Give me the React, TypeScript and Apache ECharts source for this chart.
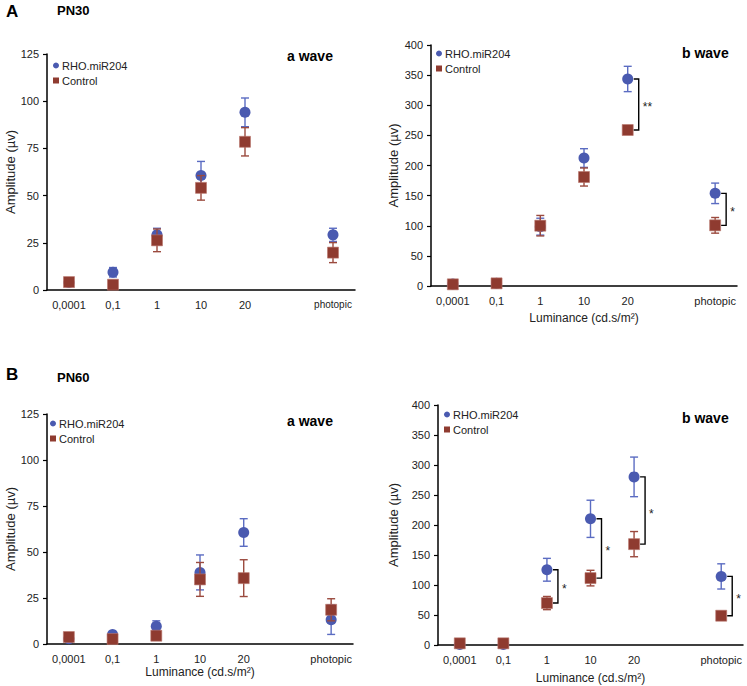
import React, { useEffect, useRef } from "react";
import * as echarts from "echarts";

const categories = ["0,0001", "0,1", "1", "10", "20", "", "photopic"];

// PN30 a wave
const a30Rho = [4.0, 9.4, 29.2, 60.6, 94.1, null, 29.2];
const a30RhoErr = [0, 2.5, 3.5, 7.5, 7.6, null, 3.5];
const a30Ctrl = [4.2, 2.8, 26.3, 54.1, 78.5, null, 19.8];
const a30CtrlErr = [0, 0, 6, 6.5, 7.5, null, 5.3];

// PN30 b wave
const b30Rho = [3.3, 4.4, 98.5, 212.4, 343.6, null, 153.8];
const b30RhoErr = [0, 0, 14, 15.5, 21, null, 17];
const b30Ctrl = [2.8, 4.4, 100.1, 180.9, 258.9, null, 100.7];
const b30CtrlErr = [0, 0, 17, 15, 3, null, 13];
const b30Sig = [
  { cat: 4, label: "**" },
  { cat: 6, label: "*" },
];

// PN60 a wave
const a60Rho = [2.9, 5.2, 9.6, 38.9, 60.6, null, 13.2];
const a60RhoErr = [0, 0, 3, 9.5, 7.5, null, 8];
const a60Ctrl = [3.8, 2.7, 4.5, 35.1, 35.8, null, 18.6];
const a60CtrlErr = [0, 0, 0, 9.2, 10, null, 6];

// PN60 b wave
const b60Rho = [1, 1, 125.4, 210.3, 280.2, null, 114.3];
const b60RhoErr = [0, 0, 19, 31, 33, null, 21];
const b60Ctrl = [2.8, 2.8, 69.9, 111.5, 168.1, null, 48.8];
const b60CtrlErr = [0, 0, 11, 13, 21, null, 2];
const b60Sig = [
  { cat: 2, label: "*" },
  { cat: 3, label: "*" },
  { cat: 4, label: "*" },
  { cat: 6, label: "*" },
];

const FONT = '"Liberation Sans", Arial, sans-serif';
const BLUE = "#4a5ab0";
const BLUE_ERR = "#5b6cc2";
const RED = "#8f3b30";
const RED_ERR = "#9b4a3e";

type Panel = {
  grid: { left: number; top: number; width: number; height: number };
  max: number;
  interval: number;
  nameGap: number;
  xName: string;
  xNameGap: number;
  rho: (number | null)[];
  rhoErr: (number | null)[];
  ctrl: (number | null)[];
  ctrlErr: (number | null)[];
  sig: { cat: number; label: string }[];
  legend: { left: number; top: number };
  smallPhotopic?: boolean;
};

const panels: Panel[] = [
  {
    grid: { left: 47, top: 54, width: 308, height: 236 },
    max: 125, interval: 25, nameGap: 30, xName: "", xNameGap: 24,
    rho: a30Rho, rhoErr: a30RhoErr, ctrl: a30Ctrl, ctrlErr: a30CtrlErr, sig: [],
    legend: { left: 53, top: 60 }, smallPhotopic: true,
  },
  {
    grid: { left: 431, top: 45, width: 306, height: 241 },
    max: 400, interval: 50, nameGap: 31, xName: "Luminance (cd.s/m²)", xNameGap: 26,
    rho: b30Rho, rhoErr: b30RhoErr, ctrl: b30Ctrl, ctrlErr: b30CtrlErr, sig: b30Sig,
    legend: { left: 436, top: 48 },
  },
  {
    grid: { left: 47, top: 414, width: 306, height: 230 },
    max: 125, interval: 25, nameGap: 30, xName: "Luminance (cd.s/m²)", xNameGap: 22,
    rho: a60Rho, rhoErr: a60RhoErr, ctrl: a60Ctrl, ctrlErr: a60CtrlErr, sig: [],
    legend: { left: 50, top: 418 },
  },
  {
    grid: { left: 438, top: 405, width: 305, height: 240 },
    max: 400, interval: 50, nameGap: 38, xName: "Luminance (cd.s/m²)", xNameGap: 27,
    rho: b60Rho, rhoErr: b60RhoErr, ctrl: b60Ctrl, ctrlErr: b60CtrlErr, sig: b60Sig,
    legend: { left: 444, top: 409 },
  },
];

function points(vals: (number | null)[]) {
  const out: number[][] = [];
  vals.forEach((v, i) => {
    if (v != null) out.push([i, v]);
  });
  return out;
}

function errPoints(vals: (number | null)[], errs: (number | null)[]) {
  const out: number[][] = [];
  vals.forEach((v, i) => {
    const e = errs[i];
    if (v != null && e != null && e > 0) out.push([i, v, e]);
  });
  return out;
}

function errSeries(idx: number, vals: (number | null)[], errs: (number | null)[], color: string, z: number) {
  return {
    type: "custom",
    xAxisIndex: idx,
    yAxisIndex: idx,
    z,
    silent: true,
    renderItem: (params: any, api: any) => {
      const x = api.value(0);
      const y = api.value(1);
      const e = api.value(2);
      const top = api.coord([x, y + e]);
      const bot = api.coord([x, Math.max(0, y - e)]);
      const cx = top[0];
      const st = { stroke: color, lineWidth: 1.4 };
      return {
        type: "group",
        children: [
          { type: "line", shape: { x1: cx, y1: top[1], x2: cx, y2: bot[1] }, style: st },
          { type: "line", shape: { x1: cx - 4, y1: top[1], x2: cx + 4, y2: top[1] }, style: st },
          { type: "line", shape: { x1: cx - 4, y1: bot[1], x2: cx + 4, y2: bot[1] }, style: st },
        ],
      };
    },
    data: errPoints(vals, errs),
  };
}

function sigSeries(idx: number, p: Panel) {
  return {
    type: "custom",
    xAxisIndex: idx,
    yAxisIndex: idx,
    z: 10,
    silent: true,
    renderItem: (params: any, api: any) => {
      const x = api.value(0);
      const p1 = api.coord([x, api.value(1)]);
      const p2 = api.coord([x, api.value(2)]);
      const bx = p1[0] + 11;
      const label = p.sig[params.dataIndex].label;
      return {
        type: "group",
        children: [
          {
            type: "polyline",
            shape: { points: [[p1[0] + 6, p1[1]], [bx, p1[1]], [bx, p2[1]], [p1[0] + 6, p2[1]]] },
            style: { stroke: "#000", lineWidth: 1.4, fill: "none" },
          },
          {
            type: "text",
            x: bx + 4,
            y: (p1[1] + p2[1]) / 2 + 3,
            style: { text: label, fill: "#222", font: `12px ${FONT}`, align: "left", verticalAlign: "middle" },
          },
        ],
      };
    },
    data: p.sig.map((s) => [s.cat, p.rho[s.cat] as number, p.ctrl[s.cat] as number]),
  };
}

export default function App() {
  const ref = useRef<HTMLDivElement>(null);
  useEffect(() => {
    if (!ref.current) return;
    const chart = echarts.init(ref.current, null, { renderer: "svg" });
    const grids: any[] = [];
    const xAxes: any[] = [];
    const yAxes: any[] = [];
    const series: any[] = [];
    const legends: any[] = [];
    panels.forEach((p, i) => {
      grids.push({ ...p.grid, containLabel: false });
      xAxes.push({
        type: "category",
        gridIndex: i,
        data: categories,
        boundaryGap: true,
        axisLine: { lineStyle: { color: "#000", width: 1.5 } },
        axisTick: { show: false },
        axisLabel: {
          interval: 0,
          margin: 9,
          color: "#222",
          fontSize: 11,
          fontFamily: FONT,
          formatter: (v: string) => (p.smallPhotopic && v === "photopic" ? `{s|${v}}` : v),
          rich: { s: { fontSize: 10, fontFamily: FONT, color: "#222" } },
        },
        name: p.xName,
        nameLocation: "middle",
        nameGap: p.xNameGap,
        nameTextStyle: { fontSize: 12, fontFamily: FONT, color: "#222" },
        splitLine: { show: false },
      });
      yAxes.push({
        type: "value",
        gridIndex: i,
        min: 0,
        max: p.max,
        interval: p.interval,
        axisLine: { show: true, lineStyle: { color: "#000", width: 1.5 } },
        axisTick: { show: true, length: 4, lineStyle: { color: "#000", width: 1.2 } },
        axisLabel: { margin: 8, color: "#222", fontSize: 11, fontFamily: FONT },
        splitLine: { show: false },
        name: "Amplitude (µv)",
        nameLocation: "middle",
        nameGap: p.nameGap,
        nameTextStyle: { fontSize: 13, fontFamily: FONT, color: "#222" },
      });
      series.push(errSeries(i, p.rho, p.rhoErr, BLUE_ERR, 2));
      series.push({
        type: "scatter",
        name: "RHO.miR204",
        xAxisIndex: i,
        yAxisIndex: i,
        z: 3,
        symbol: "circle",
        symbolSize: 11,
        itemStyle: { color: BLUE, opacity: 1 },
        data: points(p.rho),
      });
      series.push(errSeries(i, p.ctrl, p.ctrlErr, RED_ERR, 4));
      series.push({
        type: "scatter",
        name: "Control",
        xAxisIndex: i,
        yAxisIndex: i,
        z: 5,
        symbol: "rect",
        symbolSize: 11,
        itemStyle: { color: RED, opacity: 1, borderColor: "#b8766c", borderWidth: 0.6 },
        data: points(p.ctrl),
      });
      if (p.sig.length) series.push(sigSeries(i, p));
      legends.push({
        left: p.legend.left,
        top: p.legend.top,
        orient: "vertical",
        selectedMode: false,
        itemWidth: 6,
        itemHeight: 6,
        itemGap: 4,
        padding: 0,
        textStyle: { fontSize: 11, fontFamily: FONT, color: "#222", padding: [0, 0, 0, -2] },
        data: [
          { name: "RHO.miR204", icon: "circle", itemStyle: { color: BLUE, borderWidth: 0 } },
          { name: "Control", icon: "rect", itemStyle: { color: RED, borderWidth: 0 } },
        ],
      });
    });

    const titleText = (text: string, x: number, y: number, size: number) => ({
      type: "text",
      x,
      y,
      style: { text, fill: "#000", font: `bold ${size}px ${FONT}`, align: "left", verticalAlign: "middle" },
    });

    chart.setOption({
      animation: false,
      backgroundColor: "#fff",
      grid: grids,
      xAxis: xAxes,
      yAxis: yAxes,
      series,
      legend: legends,
      graphic: [
        titleText("A", 6, 11, 17),
        titleText("PN30", 57, 10, 13),
        titleText("B", 6, 374, 17),
        titleText("PN60", 57, 377, 13),
        titleText("a wave", 287, 56, 14),
        titleText("b wave", 682, 53, 14),
        titleText("a wave", 287, 421, 14),
        titleText("b wave", 682, 418, 14),
      ],
    });
    return () => chart.dispose();
  }, []);
  return <div ref={ref} style={{ position: "absolute", left: 0, top: 0, width: 747, height: 686 }} />;
}
